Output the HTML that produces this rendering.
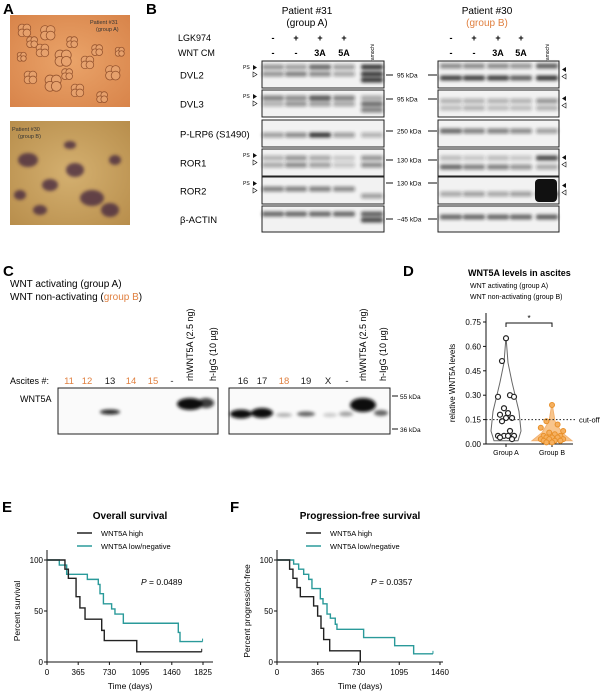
<!DOCTYPE html>
<html><head><meta charset="utf-8"><style>
html,body{margin:0;padding:0;background:#fff;}
svg{display:block;font-family:"Liberation Sans",sans-serif;}
</style></head><body>
<svg id="fig" width="607" height="694" viewBox="0 0 607 694">
<defs>
<filter id="bl" x="-50%" y="-100%" width="200%" height="300%"><feGaussianBlur stdDeviation="1.5"/></filter>
<radialGradient id="gA" cx="50%" cy="50%" r="70%"><stop offset="0" stop-color="#eaa46a"/><stop offset="1" stop-color="#d8844a"/></radialGradient>
<radialGradient id="gB" cx="50%" cy="50%" r="70%"><stop offset="0" stop-color="#d4b070"/><stop offset="1" stop-color="#b88e4c"/></radialGradient>
</defs>
<g id="panelA">
<text x="3" y="14" font-size="15" font-weight="bold">A</text>
<rect x="10" y="15" width="120" height="92" fill="url(#gA)"/>
<g id="cellsA" fill="#e8a470" stroke="#8a4a28" stroke-width="0.8" opacity="0.85"></g>
<text x="90" y="24" font-size="5.5" fill="#333">Patient #31</text>
<text x="96" y="31" font-size="5.5" fill="#333">(group A)</text>
<rect x="10" y="121" width="120" height="104" fill="url(#gB)"/>
<g id="cellsB" fill="#4a2a40" opacity="0.8" filter="url(#bl)"></g>
<text x="12" y="131" font-size="5.5" fill="#333">Patient #30</text>
<text x="18" y="138" font-size="5.5" fill="#333">(group B)</text>
</g>
<g id="panelB" font-size="9">
<text x="146" y="14" font-size="15" font-weight="bold">B</text>
<text x="307" y="14" font-size="10" text-anchor="middle">Patient #31</text>
<text x="307" y="26" font-size="10" text-anchor="middle">(group A)</text>
<text x="487" y="14" font-size="10" text-anchor="middle">Patient #30</text>
<text x="487" y="26" font-size="10" text-anchor="middle" fill="#e08040">(group B)</text>
<text x="178" y="41">LGK974</text>
<text x="178" y="56">WNT CM</text>
<g id="bHeaders" font-weight="bold" text-anchor="middle"></g>
<g id="bRows"></g>
</g>
<g id="panelC" font-size="9">
<text x="3" y="276" font-size="15" font-weight="bold">C</text>
<text x="10" y="287" font-size="10">WNT activating (group A)</text>
<text x="10" y="300" font-size="10">WNT non-activating (<tspan fill="#e08040">group B</tspan>)</text>
<text x="10" y="384">Ascites #:</text>
<text x="20" y="402">WNT5A</text>
<g id="cBlots"></g>
</g>
<g id="panelD">
<text x="403" y="276" font-size="15" font-weight="bold">D</text>
<text x="468" y="276" font-size="9" font-weight="bold">WNT5A levels in ascites</text>
<text x="470" y="288" font-size="7">WNT activating (group A)</text>
<text x="470" y="299" font-size="7">WNT non-activating (group B)</text>
<g id="dChart"></g>
</g>
<g id="panelE">
<text x="2" y="512" font-size="15" font-weight="bold">E</text>
<g id="eChart"></g>
</g>
<g id="panelF">
<text x="230" y="512" font-size="15" font-weight="bold">F</text>
<g id="fChart"></g>
</g>
</svg>
<script>
// ---- Panel D data ----
const dGroups = ["Group A","Group B"];
const dValuesA = [0.65,0.51,0.30,0.29,0.29,0.22,0.19,0.18,0.16,0.16,0.14,0.08,0.05,0.05,0.05,0.05,0.04,0.03];
const dValuesB = [0.24,0.14,0.12,0.10,0.08,0.07,0.06,0.05,0.05,0.04,0.04,0.04,0.03,0.03,0.03,0.02,0.02,0.02,0.01,0.01];
const dTicks = [0,0.15,0.30,0.45,0.60,0.75];
const dCutoff = 0.15;
// ---- Panel E data (days, percent) ----
const eHighT = [0,210,250,340,385,445,640,670,1050,1810];
const eHighS = [100,91,82,64,53,42,31,21,10,10];
const eLowT = [0,144,230,472,600,620,660,756,795,893,1536,1556,1820];
const eLowS = [100,95,86,81,76,67,57,52,47,38,29,20,20];
const eTicks = [0,365,730,1095,1460,1825];
// ---- Panel F data ----
const fHighT = [0,113,143,179,209,328,364,394,418,472,746];
const fHighS = [100,91,82,73,64,55,45,33,22,11,0];
const fLowT = [0,149,194,239,284,313,388,412,448,478,522,537,776,1054,1224,1397];
const fLowS = [100,96,91,86,81,72,62,57,47,43,37,32,24,16,8,8];
const fTicks = [0,365,730,1095,1460];
const survTicks = [0,50,100];

const NS="http://www.w3.org/2000/svg";
function mk(tag,attrs,parent,txt){const e=document.createElementNS(NS,tag);for(const k in attrs)e.setAttribute(k,attrs[k]);if(txt!==undefined)e.textContent=txt;parent.appendChild(e);return e;}
const $=id=>document.getElementById(id);

// Panel A cells
(function(){
 const ca=$('cellsA');
 const blobsA=[[22,28,7],[30,40,6],[45,30,8],[40,48,7],[60,55,9],[70,40,6],[85,60,7],[95,48,6],[110,70,8],[28,75,7],[50,80,9],[75,88,7],[100,95,6],[118,50,5],[65,72,6],[20,55,5]];
 blobsA.forEach(b=>{for(let i=0;i<4;i++){mk('circle',{cx:b[0]+(i%2)*b[2]*0.7,cy:b[1]+Math.floor(i/2)*b[2]*0.7,r:b[2]*0.55},ca);}});
 const cb=$('cellsB');
 const blobsB=[[28,160,10,7],[50,185,8,6],[75,170,9,7],[92,198,12,8],[110,210,9,7],[40,210,7,5],[70,145,6,4],[115,160,6,5],[20,195,6,5]];
 blobsB.forEach(b=>mk('ellipse',{cx:b[0],cy:b[1],rx:b[2],ry:b[3]},cb));
})();

// Panel B
(function(){
 const h=$('bHeaders');
 const lanesL=[273,296,320,344,372], lanesR=[451,474,498,521,547];
 const lgk=['-','+','+','+'], wnt=['-','-','3A','5A'];
 [lanesL,lanesR].forEach(L=>{
  for(let i=0;i<4;i++){mk('text',{x:L[i],y:41},h,lgk[i]);mk('text',{x:L[i],y:56},h,wnt[i]);}
  mk('text',{x:0,y:0,'font-size':5,'font-weight':'normal',transform:`translate(${L[4]+2},56) rotate(-90)`},h,'Kuramochi');
 });
 const g=$('bRows');
 const rows=[
  {n:'DVL2',y:61,h:27,kda:'95 kDa',ky:75,ps:true,
   L:[[67,[.5,.45,.75,.45,1]],[74,[.5,.6,.55,.4,1]],[80,[0,0,0,0,1]]],
   R:[[66,[.55,.55,.55,.5,.8]],[78,[.95,.95,.95,.8,1]]]},
  {n:'DVL3',y:90,h:27,kda:'95 kDa',ky:99,ps:true,
   L:[[98,[.6,.55,.85,.6,.4]],[104,[.35,.5,.45,.4,.7]],[110,[0,0,0,0,.6]]],
   R:[[101,[.35,.35,.35,.35,.5]],[108,[.3,.35,.3,.3,.35]]]},
  {n:'P-LRP6 (S1490)',y:120,h:27,kda:'250 kDa',ky:131,ps:false,
   L:[[135,[.45,.55,1,.45,.35]]],
   R:[[131,[.75,.6,.6,.55,.45]]]},
  {n:'ROR1',y:149,h:27,kda:'130 kDa',ky:160,ps:true,
   L:[[158,[.35,.5,.4,.2,.5]],[165,[.4,.55,.45,.25,.55]]],
   R:[[158,[.3,.25,.3,.25,.9]],[167,[.75,.6,.6,.5,.4]]]},
  {n:'ROR2',y:177,h:27,kda:'130 kDa',ky:183,ps:true,
   L:[[189,[.6,.6,.6,.55,0]],[196,[0,0,0,0,.45]]],
   R:[[194,[.4,.45,.4,.45,1]]]},
  {n:'β-ACTIN',y:206,h:26,kda:'~45 kDa',ky:219,ps:false,
   L:[[214,[.75,.75,.75,.75,.8]],[220,[0,0,0,0,.9]]],
   R:[[217,[.75,.75,.75,.75,.8]]]}
 ];
 rows.forEach(r=>{
  const rg=mk('g',{},g);
  
  
  mk('text',{x:180,y:r.y+r.h/2+4,'font-size':9.5},rg,r.n);
  [[262,384,lanesL,r.L],[438,559,lanesR,r.R]].forEach(([x0,x1,L,bands])=>{
   mk('rect',{x:x0,y:r.y,width:x1-x0,height:r.h,fill:'#f2f2f2',stroke:'#222','stroke-width':1},rg);
   const bg=mk('g',{filter:'url(#bl)'},rg);
   bands.forEach(([by,vals])=>vals.forEach((v,i)=>{ if(v>0) mk('rect',{x:L[i]-11,y:by-2.5,width:22,height:5,rx:2,fill:'#1a1a1a',opacity:v*0.85},bg);}));
  });
  if(r.n==='ROR2') mk('rect',{x:535,y:179,width:22,height:23,rx:4,fill:'#111'},rg);
  if(r.ps){mk('text',{x:243,y:r.y+8,'font-size':5},rg,'PS');mk('path',{d:`M253 ${r.y+4}l4 2.5l-4 2.5z`,fill:'#111'},rg);mk('path',{d:`M253 ${r.y+11}l4 2.5l-4 2.5z`,fill:'none',stroke:'#111','stroke-width':0.6},rg);
   mk('path',{d:`M566 ${r.y+6}l-4 2.5l4 2.5z`,fill:'#111'},rg);mk('path',{d:`M566 ${r.y+13}l-4 2.5l4 2.5z`,fill:'none',stroke:'#111','stroke-width':0.6},rg);}
  mk('text',{x:397,y:r.ky+2.5,'font-size':6.5},rg,r.kda);
  mk('line',{x1:386,x2:393,y1:r.ky,y2:r.ky,stroke:'#111'},rg);
  mk('line',{x1:428,x2:437,y1:r.ky,y2:r.ky,stroke:'#111'},rg);
 });
})();

// Panel C
(function(){
 const g=$('cBlots');
 const sets=[
  {x0:58,x1:218,labels:['11','12','13','14','15','-'],cols:['#e08040','#e08040','#222','#e08040','#e08040','#222'],lx:[69,87,110,131,153,172],rh:190,ig:213,
   bands:[[110,412,16,3,.9],[190,404,22,10,1],[206,403,12,8,.8]]},
  {x0:229,x1:390,labels:['16','17','18','19','X','-'],cols:['#222','#222','#e08040','#222','#222','#222'],lx:[243,262,284,306,328,347],rh:363,ig:383,
   bands:[[241,414,18,7,1],[262,413,18,8,1],[284,415,12,2,.3],[306,414,14,3,.6],[330,415,10,2,.2],[346,414,10,3,.35],[363,405,22,12,1],[381,413,10,4,.6]]}];
 sets.forEach((s,k)=>{
  const sg=mk('g',{},g);
  
  
  s.labels.forEach((t,i)=>mk('text',{x:s.lx[i],y:384,'text-anchor':'middle','font-size':9.5,fill:s.cols[i]},sg,t));
  mk('text',{x:0,y:0,'font-size':9,transform:`translate(${s.rh+3},381) rotate(-90)`},sg,'rhWNT5A (2.5 ng)');
  mk('text',{x:0,y:0,'font-size':9,transform:`translate(${s.ig+3},381) rotate(-90)`},sg,'h-IgG (10 µg)');
  mk('rect',{x:s.x0,y:388,width:s.x1-s.x0,height:46,fill:'#fafafa',stroke:'#222'},sg);
  const bg=mk('g',{filter:'url(#bl)'},sg);
  s.bands.forEach(b=>mk('ellipse',{cx:b[0],cy:b[1],rx:b[2]/2+2,ry:b[3]/2+1,fill:'#0a0a0a',opacity:b[4]},bg));
 });
 mk('line',{x1:392,x2:398,y1:396,y2:396,stroke:'#111'},g);
 mk('line',{x1:392,x2:398,y1:429,y2:429,stroke:'#111'},g);
 mk('text',{x:400,y:399,'font-size':6.5},g,'55 kDa');
 mk('text',{x:400,y:432,'font-size':6.5},g,'36 kDa');
})();

// Panel D chart
(function(){
 const g=$('dChart');
 const X0=486,X1=573,Y0=444,Ymax=322;
 const y=v=>Y0-(v/0.75)*(Y0-Ymax);
 const gx=[506,552];
 mk('line',{x1:X0,x2:X0,y1:313,y2:Y0,stroke:'#111','stroke-width':1},g);
 mk('line',{x1:X0,x2:X1,y1:Y0,y2:Y0,stroke:'#111','stroke-width':1},g);
 dTicks.forEach(t=>{mk('line',{x1:X0-3,x2:X0,y1:y(t),y2:y(t),stroke:'#111'},g);mk('text',{x:X0-5,y:y(t)+3,'font-size':8,'text-anchor':'end'},g,t.toFixed(2));});
 const yl=mk('text',{x:0,y:0,'font-size':8,'text-anchor':'middle',transform:`translate(455,383) rotate(-90)`},g,'relative WNT5A levels');
 
 dGroups.forEach((n,i)=>{mk('line',{x1:gx[i],x2:gx[i],y1:Y0,y2:Y0+3,stroke:'#111'},g);mk('text',{x:gx[i],y:455,'font-size':7,'text-anchor':'middle'},g,n);});
 const vA=`M${gx[0]} ${y(0.66)} L${gx[0]-2} ${y(0.5)} L${gx[0]-6} ${y(0.38)} L${gx[0]-13} ${y(0.2)} L${gx[0]-15} ${y(0.08)} L${gx[0]-12} ${y(0.02)} L${gx[0]+12} ${y(0.02)} L${gx[0]+15} ${y(0.08)} L${gx[0]+13} ${y(0.2)} L${gx[0]+6} ${y(0.38)} L${gx[0]+2} ${y(0.5)} Z`;
 const vB=`M${gx[1]} ${y(0.25)} L${gx[1]-3} ${y(0.14)} L${gx[1]-10} ${y(0.07)} L${gx[1]-20} ${y(0.02)} L${gx[1]+20} ${y(0.02)} L${gx[1]+10} ${y(0.07)} L${gx[1]+3} ${y(0.14)} Z`;
 mk('path',{d:vA,fill:'none',stroke:'#666','stroke-width':1},g);
 mk('path',{d:vB,fill:'#f7b770',stroke:'#f0a050','stroke-width':1,opacity:0.8},g);
 const jit=[0,-4,4,-8,8,-2,2,-6,6];
 dValuesA.forEach((v,i)=>{const c=mk('circle',{cx:gx[0]+jit[i%jit.length],cy:y(v),r:2.5,fill:'#fff',stroke:'#222','stroke-width':1.2},g);});
 dValuesB.forEach((v,i)=>{const c=mk('circle',{cx:gx[1]+jit[i%jit.length]*1.4,cy:y(v),r:2.5,fill:'#f5b060',stroke:'#e8902a','stroke-width':1},g);});
 mk('line',{x1:X0,x2:576,y1:y(dCutoff),y2:y(dCutoff),stroke:'#222','stroke-dasharray':'1.5,2','stroke-width':1},g);
 mk('text',{x:579,y:y(dCutoff)+3,'font-size':7.5},g,'cut-off');
 mk('path',{d:`M${gx[0]} 327 V323 H${gx[1]} V327`,fill:'none',stroke:'#111'},g);
 mk('text',{x:(gx[0]+gx[1])/2,y:321,'font-size':8,'text-anchor':'middle'},g,'*');
})();

// KM charts
function km(gid,opt){
 const g=$(gid);
 const {X0,X1,tickMaxPos,Y0,Y100,ticks,hT,hS,lT,lS,title,tcx,ylab,p,lx}=opt;
 const x=d=>X0+d/ticks[ticks.length-1]*(tickMaxPos-X0);
 const y=s=>Y0-s/100*(Y0-Y100);
 mk('text',{x:tcx,y:519,'font-size':10,'font-weight':'bold','text-anchor':'middle'},g,title);
 mk('line',{x1:lx,x2:lx+15,y1:533,y2:533,stroke:'#222','stroke-width':1.5},g);
 mk('line',{x1:lx,x2:lx+15,y1:546,y2:546,stroke:'#2a9a9a','stroke-width':1.5},g);
 mk('text',{x:lx+24,y:536,'font-size':7.5},g,'WNT5A high');
 mk('text',{x:lx+24,y:549,'font-size':7.5},g,'WNT5A low/negative');
 mk('line',{x1:X0,x2:X0,y1:550,y2:Y0,stroke:'#111'},g);
 mk('line',{x1:X0,x2:X1,y1:Y0,y2:Y0,stroke:'#111'},g);
 survTicks.forEach(t=>{mk('line',{x1:X0-3,x2:X0,y1:y(t),y2:y(t),stroke:'#111'},g);mk('text',{x:X0-4,y:y(t)+3,'font-size':8,'text-anchor':'end'},g,String(t));});
 ticks.forEach(t=>{mk('line',{x1:x(t),x2:x(t),y1:Y0,y2:Y0+3,stroke:'#111'},g);mk('text',{x:x(t),y:Y0+13,'font-size':8,'text-anchor':'middle'},g,String(t));});
 mk('text',{x:(X0+X1)/2,y:Y0+27,'font-size':8.5,'text-anchor':'middle'},g,'Time (days)');
 mk('text',{x:0,y:0,'font-size':8.5,'text-anchor':'middle',transform:`translate(${X0-27},${(Y0+Y100)/2}) rotate(-90)`},g,ylab);
 const pt=mk('text',{x:X0+94,y:585,'font-size':8.5},g,'');
 mk('tspan',{'font-style':'italic'},pt,'P');mk('tspan',{},pt,' = '+p);
 [[lT,lS,'#2a9a9a','km-curve-low'],[hT,hS,'#222','km-curve-high']].forEach(([T,S,c,n])=>{
  let d=`M${x(T[0])} ${y(S[0])}`;
  for(let i=1;i<T.length;i++){d+=` H${x(T[i])} V${y(S[i])}`;}
  const pth=mk('path',{d,fill:'none',stroke:c,'stroke-width':1.4},g);
  
  
  mk('line',{x1:x(T[T.length-1]),x2:x(T[T.length-1]),y1:y(S[S.length-1])-3,y2:y(S[S.length-1]),stroke:c},g);
 });
}
km('eChart',{X0:47,X1:213,tickMaxPos:203,Y0:662,Y100:560,ticks:eTicks,hT:eHighT,hS:eHighS,lT:eLowT,lS:eLowS,title:'Overall survival',tcx:130,ylab:'Percent survival',p:'0.0489',lx:77});
km('fChart',{X0:277,X1:443,tickMaxPos:440,Y0:662,Y100:560,ticks:fTicks,hT:fHighT,hS:fHighS,lT:fLowT,lS:fLowS,title:'Progression-free survival',tcx:360,ylab:'Percent progression-free',p:'0.0357',lx:306});
</script>
</body></html>
